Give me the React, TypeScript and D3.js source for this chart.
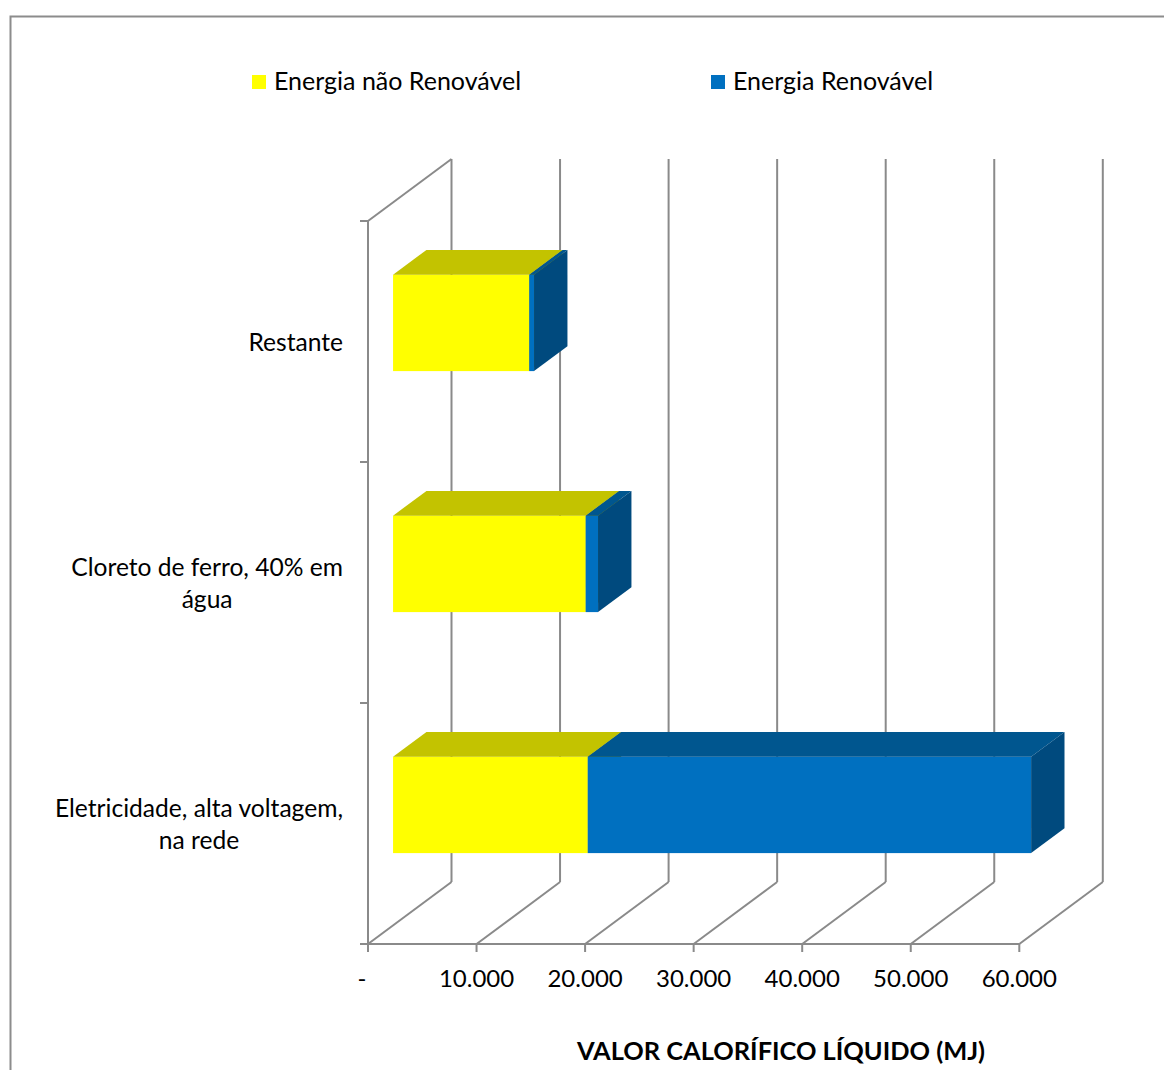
import React, { useEffect, useRef } from "react";
import * as d3 from "d3";

// Categories (top to bottom) and their wrapped label lines
const categories = [
  "Restante",
  "Cloreto de ferro, 40% em água",
  "Eletricidade, alta voltagem, na rede",
];
const categoryLines = [
  ["Restante"],
  ["Cloreto de ferro, 40% em", "água"],
  ["Eletricidade, alta voltagem,", "na rede"],
];

// Stacked series values (MJ)
const naoRenovavel = [12550, 17750, 17940];
const renovavel = [440, 1135, 40840];

const seriesNames = ["Energia não Renovável", "Energia Renovável"];
const xTicks = [0, 10000, 20000, 30000, 40000, 50000, 60000];
const axisTitle = "VALOR CALORÍFICO LÍQUIDO (MJ)";

const FONT = "Lato, 'Open Sans', 'Noto Sans', sans-serif";
const GRID = "#8a8a8a";

const palette = {
  yellow: { front: "#FFFF00", top: "#C3C300", side: "#9A9A00" },
  blue: { front: "#0070C0", top: "#00568F", side: "#004A7E" },
};

export default function App() {
  const ref = useRef<SVGSVGElement | null>(null);

  useEffect(() => {
    const svg = d3.select(ref.current);
    svg.selectAll("*").remove();

    const W = 1164;
    const H = 1070;

    // outer chart frame
    svg
      .append("rect")
      .attr("x", 10.5)
      .attr("y", 16.5)
      .attr("width", W + 20)
      .attr("height", H + 20)
      .attr("fill", "#fff")
      .attr("stroke", "#8c8c8c")
      .attr("stroke-width", 2);

    const x = d3.scaleLinear().domain([0, 60000]).range([368, 1019.3]);
    const y = d3
      .scaleBand<string>()
      .domain(categories)
      .range([221, 944])
      .paddingInner(0.6)
      .paddingOuter(0.3);

    // full depth of the 3D floor
    const dX = 83.5;
    const dY = -62;
    const yTop = 221;
    const yBase = 944;

    const loc = d3.formatLocale({
      decimal: ",",
      thousands: ".",
      grouping: [3],
      currency: ["", ""],
    });
    const fmt = loc.format(",");

    const g = svg.append("g");

    // back wall gridlines
    xTicks.forEach((v) => {
      g.append("line")
        .attr("x1", x(v) + dX)
        .attr("x2", x(v) + dX)
        .attr("y1", yBase + dY)
        .attr("y2", yTop + dY)
        .attr("stroke", GRID)
        .attr("stroke-width", 2);
      // floor gridlines
      g.append("line")
        .attr("x1", x(v))
        .attr("y1", yBase)
        .attr("x2", x(v) + dX)
        .attr("y2", yBase + dY)
        .attr("stroke", GRID)
        .attr("stroke-width", 2);
      // ticks
      g.append("line")
        .attr("x1", x(v))
        .attr("x2", x(v))
        .attr("y1", yBase)
        .attr("y2", yBase + 8)
        .attr("stroke", GRID)
        .attr("stroke-width", 2);
    });

    // left wall top edge
    g.append("line")
      .attr("x1", x(0))
      .attr("y1", yTop)
      .attr("x2", x(0) + dX)
      .attr("y2", yTop + dY)
      .attr("stroke", GRID)
      .attr("stroke-width", 2);

    // category axis
    g.append("line")
      .attr("x1", x(0))
      .attr("x2", x(0))
      .attr("y1", yTop)
      .attr("y2", yBase)
      .attr("stroke", GRID)
      .attr("stroke-width", 2);
    const step = y.step();
    d3.range(categories.length + 1).forEach((i) => {
      g.append("line")
        .attr("x1", x(0) - 8)
        .attr("x2", x(0))
        .attr("y1", yTop + i * step)
        .attr("y2", yTop + i * step)
        .attr("stroke", GRID)
        .attr("stroke-width", 2);
    });
    // value axis baseline
    g.append("line")
      .attr("x1", x(0) - 8)
      .attr("x2", x(60000))
      .attr("y1", yBase)
      .attr("y2", yBase)
      .attr("stroke", GRID)
      .attr("stroke-width", 2);

    // 3D boxes
    const ox = 0.3 * dX;
    const oy = 0.3 * dY;
    const bx = 0.4 * dX;
    const by = 0.4 * dY;
    const box = (
      x0: number,
      x1: number,
      t: number,
      b: number,
      c: { front: string; top: string; side: string }
    ) => {
      const fx0 = x0 + ox;
      const fx1 = x1 + ox;
      const ft = t + oy;
      const fb = b + oy;
      g.append("rect")
        .attr("x", fx0)
        .attr("y", ft)
        .attr("width", fx1 - fx0)
        .attr("height", fb - ft)
        .attr("fill", c.front);
      g.append("polygon")
        .attr(
          "points",
          [
            [fx0, ft],
            [fx1, ft],
            [fx1 + bx, ft + by],
            [fx0 + bx, ft + by],
          ]
            .map((p) => p.join(","))
            .join(" ")
        )
        .attr("fill", c.top);
      g.append("polygon")
        .attr(
          "points",
          [
            [fx1, ft],
            [fx1 + bx, ft + by],
            [fx1 + bx, fb + by],
            [fx1, fb],
          ]
            .map((p) => p.join(","))
            .join(" ")
        )
        .attr("fill", c.side);
    };

    categories.forEach((cat, i) => {
      const t = y(cat)!;
      const b = t + y.bandwidth();
      const a = naoRenovavel[i];
      const r = renovavel[i];
      box(x(0), x(a), t, b, palette.yellow);
      box(x(a), x(a + r), t, b, palette.blue);
    });

    // value tick labels
    xTicks.forEach((v) => {
      svg
        .append("text")
        .attr("x", v === 0 ? x(v) - 6 : x(v))
        .attr("y", 987)
        .attr("text-anchor", "middle")
        .attr("font-family", FONT)
        .attr("font-size", 24)
        .attr("fill", "#000")
        .text(v === 0 ? "-" : fmt(v));
    });

    // category labels: block right-aligned, lines centred within the block
    const rightEdge = 343;
    const lineH = 32;
    categories.forEach((cat, i) => {
      const lines = categoryLines[i];
      const cy = y(cat)! + y.bandwidth() / 2;
      const grp = svg.append("g");
      const texts = lines.map((ln, k) =>
        grp
          .append("text")
          .attr("y", cy + 9 + (k - (lines.length - 1) / 2) * lineH)
          .attr("text-anchor", "middle")
          .attr("font-family", FONT)
          .attr("font-size", 24.6)
          .attr("fill", "#000")
          .text(ln)
      );
      const widths = texts.map((tn) => (tn.node() as SVGTextElement).getComputedTextLength());
      const maxW = Math.max(...widths);
      texts.forEach((tn) => tn.attr("x", rightEdge - maxW / 2));
    });

    // legend
    const legendItems = [
      { name: seriesNames[0], color: palette.yellow.front, x: 252 },
      { name: seriesNames[1], color: palette.blue.front, x: 711 },
    ];
    legendItems.forEach((it) => {
      svg
        .append("rect")
        .attr("x", it.x)
        .attr("y", 75)
        .attr("width", 14)
        .attr("height", 14)
        .attr("fill", it.color);
      svg
        .append("text")
        .attr("x", it.x + 22)
        .attr("y", 90)
        .attr("font-family", FONT)
        .attr("font-size", 25)
        .attr("fill", "#000")
        .text(it.name);
    });

    // axis title
    svg
      .append("text")
      .attr("x", 781)
      .attr("y", 1060)
      .attr("text-anchor", "middle")
      .attr("font-family", FONT)
      .attr("font-weight", "bold")
      .attr("font-size", 25.4)
      .attr("fill", "#000")
      .text(axisTitle);
  }, []);

  return (
    <svg
      ref={ref}
      width={1164}
      height={1070}
      style={{ position: "absolute", left: 0, top: 0, background: "#fff" }}
    />
  );
}
